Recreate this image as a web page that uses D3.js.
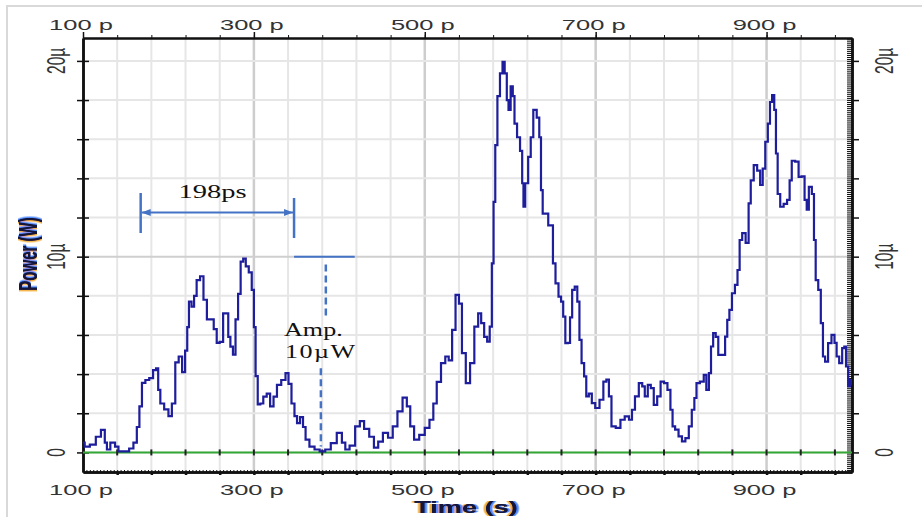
<!DOCTYPE html>
<html>
<head>
<meta charset="utf-8">
<script src="https://cdn.jsdelivr.net/npm/d3@7"></script>
<style>
  body { margin: 0; background: #fff; }
  svg { display: block; }
</style>
</head>
<body>
<svg id="chart" width="922" height="517"></svg>
<script>
// Optical pulse trace: power (µW) vs time (ps)

// sample times (ps) and power (µW), same length
const timePs = [100,104,112,118,124,127,129,135,140,143,151,157,161,165,167,171,175,180,184,187,
  189,192,198,202,206,210,214,218,221,223,225,229,231,235,239,243,247,251,255,258,
  262,266,269,271,274,277,280,283,286,289,292,296,299,301,303,306,309,313,317,321,
  325,329,335,339,342,346,349,352,356,359,362,368,374,380,387,393,401,405,409,415,
  422,426,432,438,443,448,454,460,465,471,477,481,485,490,497,503,508,512,516,522,
  526,530,534,538,542,545,551,555,561,564,568,571,575,577,580,581,584,586,590,592,
  595,597,599,602,604,606,610,613,615,616,619,623,625,629,633,635,637,639,643,646,
  649,651,655,658,661,663,666,669,671,674,677,680,682,685,688,690,694,697,702,707,
  711,714,717,720,727,731,737,741,744,748,753,756,759,763,766,770,774,778,782,786,
  789,791,795,799,803,807,811,814,817,819,825,828,831,834,836,839,842,845,850,853,
  855,858,861,865,867,870,873,878,880,883,887,891,894,897,900,903,905,908,910,912,
  914,918,922,926,928,931,936,939,943,946,948,951,955,956,959,962,965,967,970,974,
  978,981,983,987,990,992,994,997,998,1000];

const powerUw = [0.5,0.3,0.4,0.8,1.15,0.5,0.15,0.5,0.3,0.05,0.05,0.2,0.5,1.3,2.35,3.55,3.7,3.8,4.2,4.3,
  3.2,2.5,2.2,1.85,2.5,4.6,4.9,4.1,5.2,6.4,7.7,7.45,8.0,8.8,9.0,7.8,6.8,6.8,6.3,5.6,
  5.65,7.1,7.1,5.9,5.4,5.0,6.8,8.1,9.75,9.9,9.5,9.2,8.3,6.4,3.9,2.45,2.5,2.85,3.0,2.35,
  2.85,3.45,3.7,4.05,3.5,2.5,1.85,1.5,1.8,1.3,0.65,0.3,0.15,0.05,0.15,0.48,1.0,0.5,0.15,0.35,
  1.33,1.6,1.2,0.8,0.25,0.55,1.0,0.75,1.33,2.1,2.8,2.35,1.33,0.65,0.9,1.25,1.67,2.5,3.6,4.56,
  4.9,4.7,6.26,8.05,7.6,5.07,3.54,4.56,6.43,7.1,6.6,5.9,5.66,6.43,9.66,12.8,15.7,18.2,19.36,19.95,
  19.36,18.0,17.5,18.7,18.2,16.8,16.1,15.4,13.75,12.55,13.75,15.1,16.1,17.5,17.1,16.1,13.4,12.2,12.2,11.6,
  11.6,9.66,8.64,7.96,7.7,6.94,5.58,5.6,6.9,8.3,8.47,7.7,5.75,4.56,3.88,2.86,3.0,2.52,2.27,2.69,
  3.62,3.72,2.86,1.33,1.25,1.67,1.84,1.67,2.18,2.86,3.54,3.37,2.86,3.45,3.28,2.43,2.86,3.62,3.54,3.2,
  2.18,1.33,1.16,0.82,0.56,0.73,1.33,2.18,2.78,3.54,3.62,3.96,3.2,4.05,5.41,6.09,5.9,4.98,4.98,5.92,
  6.77,7.28,8.13,8.56,9.32,10.85,11.2,10.7,12.72,13.9,14.68,14.4,13.66,14.5,15.87,16.8,17.9,18.25,17.5,15.27,
  13.2,12.55,12.7,12.9,13.9,14.9,14.85,14.08,14.1,12.9,12.4,13.57,13.2,10.85,8.8,8.3,6.6,4.9,4.64,5.58,
  6.0,5.6,4.9,4.56,5.33,5.4,4.39,3.37,3.7,3.5];

// axis ticks
const xTickValues = [100, 300, 500, 700, 900];
const xTickLabels = ["100 p", "300 p", "500 p", "700 p", "900 p"];
const yTickValues = [0, 10, 20];
const yTickLabels = ["0", "10µ", "20µ"];

// annotations (in data units)
const periodStart = 167.5, periodEnd = 347, periodLabel = "198ps";
const ampLevel = 10, ampLineEnd = 418, ampLabel = ["Amp.", "10µW"];

const svg = d3.select("#chart");
const plotL = 83, plotR = 852, plotT = 38, plotB = 472;

const x = d3.scaleLinear().domain([100, 1000]).range([plotL, plotR]);
const y = d3.scaleLinear().domain([-1, 21.17]).range([plotB, plotT]);

const xMinor = d3.range(140, 1000, 40);
const yMinor = d3.range(0, 21, 2);

const defs = svg.append("defs");

// colour fringe used on the axis titles
const fringe = defs.append("filter").attr("id", "fringe")
  .attr("x", "-20%").attr("y", "-20%").attr("width", "140%").attr("height", "140%");
fringe.append("feDropShadow").attr("dx", -1.5).attr("dy", 0).attr("stdDeviation", 0.3)
  .attr("flood-color", "#f2a31b").attr("flood-opacity", 0.9).attr("result", "a");
fringe.append("feDropShadow").attr("in", "SourceGraphic").attr("dx", 1.5).attr("dy", 0).attr("stdDeviation", 0.3)
  .attr("flood-color", "#3b7bff").attr("flood-opacity", 0.9).attr("result", "b");
const fm = fringe.append("feMerge");
fm.append("feMergeNode").attr("in", "a");
fm.append("feMergeNode").attr("in", "b");
fm.append("feMergeNode").attr("in", "SourceGraphic");

// light frame of the screenshot
svg.append("path")
  .attr("d", "M7,517 L7,6 L922,6")
  .attr("fill", "none").attr("stroke", "#d9d9d9").attr("stroke-width", 2);

// 1) grid
const grid = svg.append("g");
grid.selectAll(".vgrid").data(xMinor).join("line")
  .attr("x1", d => x(d)).attr("x2", d => x(d))
  .attr("y1", plotT).attr("y2", plotB)
  .attr("stroke", d => (d - 100) % 200 === 0 ? "#cdcdcd" : "#e6e6e6")
  .attr("stroke-width", d => (d - 100) % 200 === 0 ? 2.5 : 2);
grid.selectAll(".hgrid").data(yMinor).join("line")
  .attr("x1", plotL).attr("x2", plotR)
  .attr("y1", d => y(d)).attr("y2", d => y(d))
  .attr("stroke", d => d === 10 ? "#cfcfcf" : "#e6e6e6")
  .attr("stroke-width", 2);

// 2) axes (tick marks only, labels drawn separately)
function styleAxis(g, w) {
  g.selectAll("text").remove();
  g.select(".domain").attr("stroke", "#111").attr("stroke-width", w);
  g.selectAll(".tick line").attr("stroke", "#111");
}

// top
svg.append("g").attr("transform", `translate(0,${plotT})`)
  .call(d3.axisTop(x).tickValues(xMinor).tickSize(3).tickSizeOuter(0).tickFormat(""))
  .call(g => styleAxis(g, 2));
svg.append("g").attr("transform", `translate(0,${plotT})`)
  .call(d3.axisTop(x).tickValues(xTickValues).tickSize(6).tickSizeOuter(0).tickFormat(""))
  .call(g => styleAxis(g, 2))
  .call(g => g.selectAll(".tick line").attr("stroke-width", 1.5));

// bottom: dense ruler plus grid ticks
svg.append("g").attr("transform", `translate(0,${plotB})`)
  .call(d3.axisBottom(x).tickValues(d3.range(100, 1001, 4)).tickSize(-2).tickSizeOuter(0).tickFormat(""))
  .call(g => styleAxis(g, 2.5))
  .call(g => g.selectAll(".tick line").attr("stroke-width", 1));
svg.append("g").attr("transform", `translate(0,${plotB})`)
  .call(d3.axisBottom(x).tickValues(xMinor).tickSize(3).tickSizeOuter(0).tickFormat(""))
  .call(g => styleAxis(g, 2.5))
  .call(g => g.selectAll(".tick line").attr("stroke-width", 2.5));

// left: ticks across the line
[6, -6].forEach(s => {
  svg.append("g").attr("transform", `translate(${plotL},0)`)
    .call(d3.axisLeft(y).tickValues(yMinor).tickSize(s).tickSizeOuter(0).tickFormat(""))
    .call(g => styleAxis(g, 2.5))
    .call(g => g.selectAll(".tick line").attr("stroke-width", 1.5));
});

// right: dense ruler inside, major ticks outside
svg.append("g").attr("transform", `translate(${plotR},0)`)
  .call(d3.axisRight(y).tickValues(d3.range(-1, 21.15, 0.1)).tickSize(-5).tickSizeOuter(0).tickFormat(""))
  .call(g => styleAxis(g, 2.5))
  .call(g => g.selectAll(".tick line").attr("stroke-width", 1));
svg.append("g").attr("transform", `translate(${plotR},0)`)
  .call(d3.axisRight(y).tickValues(yMinor).tickSize(7).tickSizeOuter(0).tickFormat(""))
  .call(g => styleAxis(g, 2.5))
  .call(g => g.selectAll(".tick line").attr("stroke-width", 1.5));

// 3) zero reference line (green) with small marks
svg.append("line")
  .attr("x1", plotL).attr("x2", plotR)
  .attr("y1", y(0)).attr("y2", y(0))
  .attr("stroke", "#34a836").attr("stroke-width", 2);
svg.selectAll(".zmark").data(xMinor).join("line")
  .attr("x1", d => x(d)).attr("x2", d => x(d))
  .attr("y1", y(0) - 3).attr("y2", y(0) + 3)
  .attr("stroke", "#222").attr("stroke-width", 2);

// 4) signal trace
defs.append("clipPath").attr("id", "plotClip")
  .append("rect").attr("x", plotL).attr("y", plotT)
  .attr("width", plotR - plotL).attr("height", plotB - plotT);

const trace = d3.line()
  .x((d, i) => x(timePs[i]))
  .y(d => y(d))
  .curve(d3.curveStep);

svg.append("path")
  .datum(powerUw)
  .attr("clip-path", "url(#plotClip)")
  .attr("d", trace)
  .attr("fill", "none")
  .attr("stroke", "#1e1e9c")
  .attr("stroke-width", 2.2)
  .attr("stroke-linejoin", "miter");

// 5) text helpers (the picture is stretched sideways)
const sans = "Arial, 'Liberation Sans', sans-serif";
const serif = "'Times New Roman', 'Liberation Serif', serif";

function addText(txt, tx, ty, o) {
  return svg.append("text")
    .attr("transform", `translate(${tx},${ty}) scale(${o.sx},1)` + (o.rot ? ` rotate(${o.rot})` : ""))
    .attr("text-anchor", o.anchor || "middle")
    .style("font-family", o.family || sans)
    .style("font-size", o.size + "px")
    .style("font-weight", o.weight || "normal")
    .attr("fill", o.fill || "#333")
    .text(txt);
}

// x tick labels top and bottom
xTickValues.forEach((v, i) => {
  addText(xTickLabels[i], x(v) - 2, 30, { sx: 1.7, size: 15 });
  addText(xTickLabels[i], x(v) - 2, 495, { sx: 1.7, size: 15 });
});
// y tick labels left and right (rotated)
yTickValues.forEach((v, i) => {
  addText(yTickLabels[i], 65, y(v), { sx: 1.7, size: 15.5, rot: -90 });
  addText(yTickLabels[i], 893, y(v), { sx: 1.7, size: 15.5, rot: -90 });
});

// axis titles
addText("Time (s)", 466, 513, { sx: 1.7, size: 16, weight: "bold", fill: "#15153a" })
  .attr("filter", "url(#fringe)");
addText("Power (W)", 37, 254, { sx: 1.7, size: 15, weight: "bold", fill: "#15153a", rot: -90 })
  .attr("filter", "url(#fringe)");

// 6) annotations
const blue = "#4472c4";
const ann = svg.append("g");

defs.append("marker")
  .attr("id", "arrowHead")
  .attr("viewBox", "0 -5 10 10")
  .attr("refX", 10).attr("refY", 0)
  .attr("markerWidth", 4.5).attr("markerHeight", 4.5)
  .attr("markerUnits", "strokeWidth")
  .attr("orient", "auto-start-reverse")
  .append("path").attr("d", "M0,-4L10,0L0,4Z").attr("fill", blue);

ann.append("line")
  .attr("x1", x(periodStart) + 1).attr("x2", x(periodEnd) - 1)
  .attr("y1", 212.5).attr("y2", 212.5)
  .attr("stroke", blue).attr("stroke-width", 2)
  .attr("marker-start", "url(#arrowHead)").attr("marker-end", "url(#arrowHead)");
ann.append("line")
  .attr("x1", x(periodStart)).attr("x2", x(periodStart))
  .attr("y1", 193).attr("y2", 233)
  .attr("stroke", blue).attr("stroke-width", 2.5);
ann.append("line")
  .attr("x1", x(periodEnd)).attr("x2", x(periodEnd))
  .attr("y1", 198).attr("y2", 238)
  .attr("stroke", blue).attr("stroke-width", 2.5);

ann.append("line")
  .attr("x1", x(periodEnd)).attr("x2", x(ampLineEnd))
  .attr("y1", y(ampLevel)).attr("y2", y(ampLevel))
  .attr("stroke", blue).attr("stroke-width", 2);
ann.append("line")
  .attr("x1", x(384.2)).attr("x2", x(384.2))
  .attr("y1", y(9.6)).attr("y2", y(6.9))
  .attr("stroke", blue).attr("stroke-width", 2.5).attr("stroke-dasharray", "7,4");
ann.append("line")
  .attr("x1", x(378.4)).attr("x2", x(378.4))
  .attr("y1", y(4.3)).attr("y2", y(0.3))
  .attr("stroke", blue).attr("stroke-width", 2.5).attr("stroke-dasharray", "7,4");

addText(periodLabel, 212.5, 198, { sx: 1.5, size: 19, family: serif, fill: "#111" });
addText(ampLabel[0], 284, 336, { sx: 1.45, size: 18, family: serif, fill: "#111", anchor: "start" });
addText(ampLabel[1], 285, 358, { sx: 1.45, size: 18, family: serif, fill: "#111", anchor: "start" })
  .style("letter-spacing", "1px");
</script>
</body>
</html>
